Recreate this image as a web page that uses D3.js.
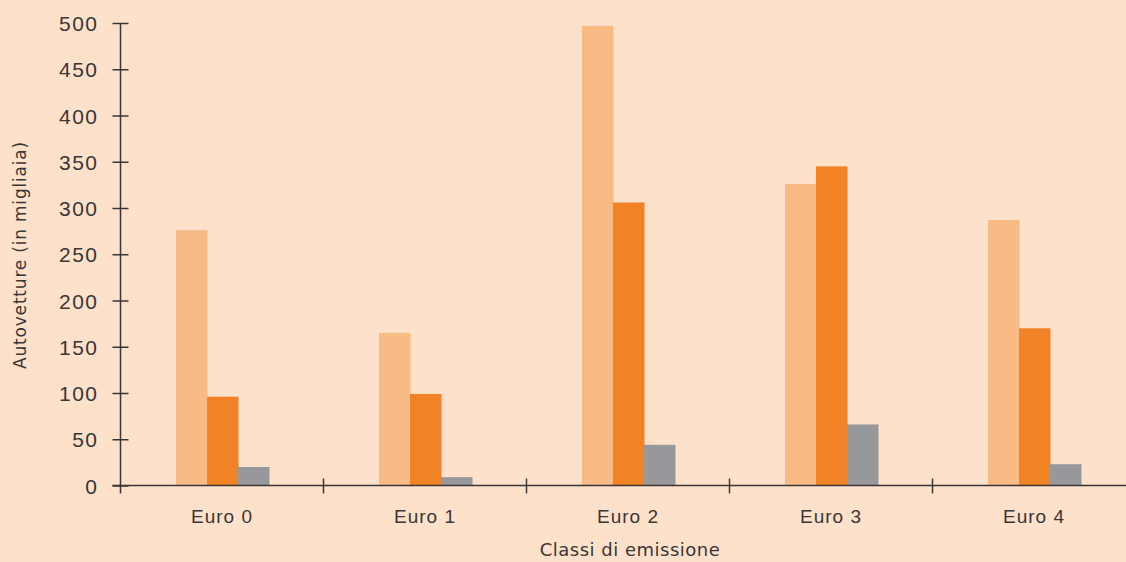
<!DOCTYPE html>
<html>
<head>
<meta charset="utf-8">
<script src="https://cdn.jsdelivr.net/npm/d3@7"></script>
<style>
  html, body { margin: 0; padding: 0; background: #fde1ca; }
  svg { display: block; font-family: "DejaVu Sans", sans-serif; }
</style>
</head>
<body>
<svg id="drawing_region"></svg>
<script>
const categories = ['Euro 0', 'Euro 1', 'Euro 2', 'Euro 3', 'Euro 4'];
const series = ['a', 'b', 'c'];
const values_a = [276, 165, 497, 326, 287];
const values_b = [96, 99, 306, 345, 170];
const values_c = [20, 9, 44, 66, 23];
const y_ticks = [0, 50, 100, 150, 200, 250, 300, 350, 400, 450, 500];

const colors = { a: '#f9bb86', b: '#f28226', c: '#97989b' };
const axis_color = '#3b3535';

const width = 1126, height = 562;
const margin = { top: 23, left: 120.5 };
const zero_y = 485.5;
const band = 203;

const svg = d3.select('#drawing_region')
    .attr('width', width)
    .attr('height', height);

svg.append('rect').attr('width', width).attr('height', height).attr('fill', '#fde1ca');

const yscale = d3.scaleLinear()
    .domain([0, 500])
    .range([zero_y, margin.top]);

const xscale = d3.scaleBand()
    .domain(categories)
    .range([margin.left, margin.left + band * categories.length]);

const xsub = d3.scaleBand()
    .domain(series)
    .range([55.5, 148.5]);

const data = categories.map((c, i) => ({
    cat: c,
    a: values_a[i],
    b: values_b[i],
    c: values_c[i]
}));

// bars
const groups = svg.append('g').selectAll('g')
    .data(data)
    .join('g')
    .attr('transform', d => `translate(${xscale(d.cat)},0)`);

groups.selectAll('rect')
    .data(d => series.map(s => ({ key: s, value: d[s] })))
    .join('rect')
    .attr('x', d => xsub(d.key))
    .attr('y', d => yscale(d.value))
    .attr('width', xsub.bandwidth() + 0.5)
    .attr('height', d => zero_y - yscale(d.value))
    .attr('fill', d => colors[d.key]);

// y axis
const yaxis = d3.axisLeft(yscale)
    .tickValues(y_ticks)
    .tickSize(8)
    .tickPadding(14);

const yaxis_group = svg.append('g')
    .attr('transform', `translate(${margin.left},0)`)
    .call(yaxis);

yaxis_group.select('.domain').remove();
yaxis_group.selectAll('.tick line')
    .attr('x1', -8).attr('x2', 8)
    .attr('stroke', axis_color).attr('stroke-width', 1.5);
yaxis_group.selectAll('.tick text')
    .attr('fill', axis_color)
    .attr('x', -22)
    .style('font-size', '21px')
    .style('letter-spacing', '1.5px')
    .attr('dy', '0.36em');

yaxis_group.append('line')
    .attr('x1', 0).attr('x2', 0)
    .attr('y1', yscale(500)).attr('y2', zero_y + 8)
    .attr('stroke', axis_color).attr('stroke-width', 1.5);

// x axis
const xaxis = d3.axisBottom(xscale).tickSize(0).tickPadding(24);
const xaxis_group = svg.append('g')
    .attr('transform', `translate(0,${zero_y})`)
    .call(xaxis);

xaxis_group.select('.domain').remove();
xaxis_group.selectAll('.tick text')
    .attr('fill', axis_color)
    .style('font-size', '19px')
    .style('letter-spacing', '1px');

xaxis_group.append('line')
    .attr('x1', margin.left - 8).attr('x2', width)
    .attr('y1', 0).attr('y2', 0)
    .attr('stroke', axis_color).attr('stroke-width', 1.5);

xaxis_group.selectAll('.sep')
    .data(categories.slice(1).concat(['end']))
    .join('line')
    .attr('class', 'sep')
    .attr('x1', (d, i) => xscale(categories[i]) + band)
    .attr('x2', (d, i) => xscale(categories[i]) + band)
    .attr('y1', -7).attr('y2', 8)
    .attr('stroke', axis_color).attr('stroke-width', 1.5);

// labels
svg.append('text')
    .attr('x', 630)
    .attr('y', 556)
    .attr('text-anchor', 'middle')
    .attr('fill', axis_color)
    .style('font-size', '18px')
    .style('letter-spacing', '0.5px')
    .text('Classi di emissione');

svg.append('text')
    .attr('transform', 'rotate(-90)')
    .attr('x', -255)
    .attr('y', 26)
    .attr('text-anchor', 'middle')
    .attr('fill', axis_color)
    .style('font-size', '17px')
    .style('letter-spacing', '0.8px')
    .text('Autovetture (in migliaia)');
</script>
</body>
</html>
